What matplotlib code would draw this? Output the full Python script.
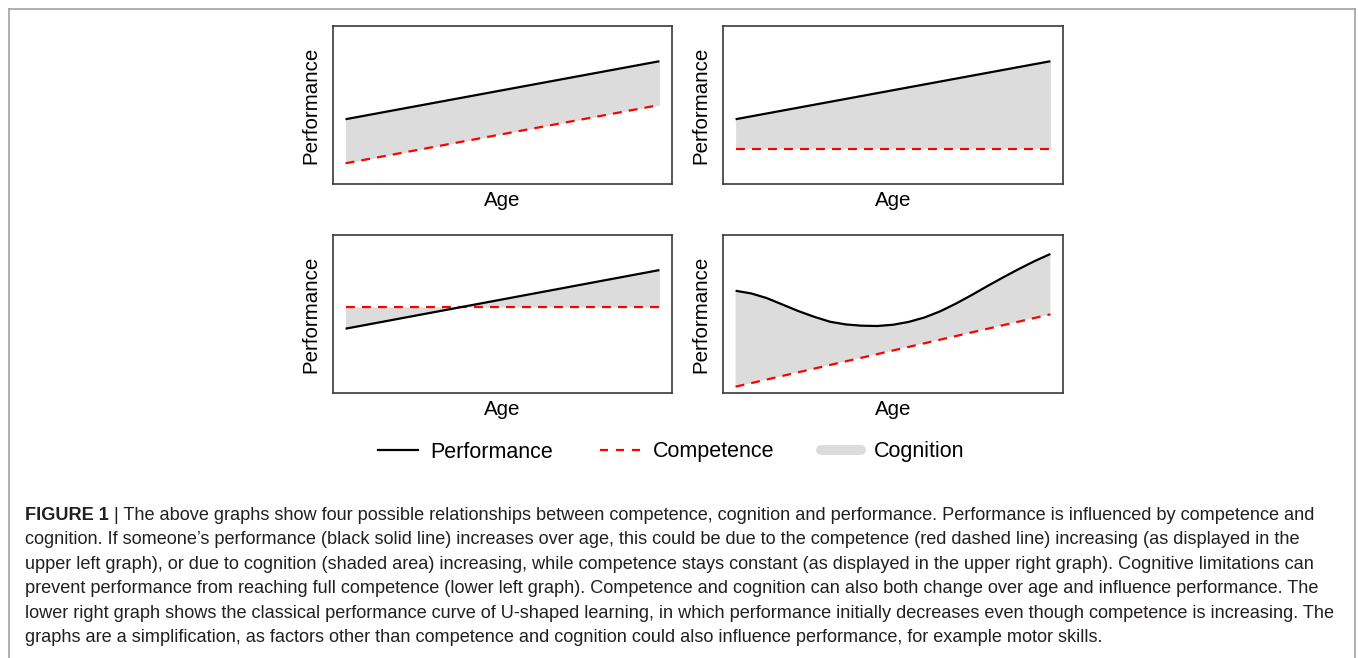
import matplotlib
matplotlib.use("Agg")
import matplotlib.pyplot as plt
from matplotlib.lines import Line2D
import numpy as np

plt.rcParams['font.family'] = ['Liberation Sans', 'DejaVu Sans']

# ---------------- data ----------------
age = [0.0, 1.0]

tl_perf = [0.410, 0.777]
tl_comp = [0.131, 0.500]

tr_perf = [0.410, 0.777]
tr_comp = [0.223, 0.223]

bl_perf = [0.407, 0.778]
bl_comp = [0.544, 0.544]

br_age = [0.00, 0.05, 0.10, 0.15, 0.20, 0.25, 0.30, 0.35, 0.40, 0.45, 0.50,
          0.55, 0.60, 0.65, 0.70, 0.75, 0.80, 0.85, 0.90, 0.95, 1.00]
br_perf = [0.647, 0.630, 0.600, 0.559, 0.518, 0.482, 0.451, 0.434, 0.426, 0.424, 0.432,
           0.450, 0.478, 0.517, 0.566, 0.620, 0.677, 0.732, 0.785, 0.835, 0.880]
br_comp = [0.040, 0.498]

legend_labels = ["Performance", "Competence", "Cognition"]
xlabel = "Age"
ylabel = "Performance"

caption_bold = "FIGURE 1"
caption_lines = [
    " | The above graphs show four possible relationships between competence, cognition and performance. Performance is influenced by competence and",
    "cognition. If someone\u2019s performance (black solid line) increases over age, this could be due to the competence (red dashed line) increasing (as displayed in the",
    "upper left graph), or due to cognition (shaded area) increasing, while competence stays constant (as displayed in the upper right graph). Cognitive limitations can",
    "prevent performance from reaching full competence (lower left graph). Competence and cognition can also both change over age and influence performance. The",
    "lower right graph shows the classical performance curve of U-shaped learning, in which performance initially decreases even though competence is increasing. The",
    "graphs are a simplification, as factors other than competence and cognition could also influence performance, for example motor skills.",
]

# ---------------- styles ----------------
W, H = 1358, 658
DPI = 100
FILL = '#dcdcdc'
PERF_KW = dict(color='black', lw=1.6, solid_capstyle='butt', solid_joinstyle='round')
COMP_KW = dict(color='#ff0000', lw=1.6, ls=(0, (4, 3.2)))
SPINE = '#3a3a3a'

fig = plt.figure(figsize=(W / DPI, H / DPI), dpi=DPI)


def px_axes(left, top, right, bottom):
    return fig.add_axes([left / W, 1 - bottom / H, (right - left) / W, (bottom - top) / H])


axes = [
    px_axes(333, 26, 672, 184),
    px_axes(723, 26, 1063, 184),
    px_axes(333, 235, 672, 393),
    px_axes(723, 235, 1063, 393),
]

for ax in axes:
    ax.set_xlim(-0.04, 1.04)
    ax.set_ylim(0, 1)
    ax.set_xticks([])
    ax.set_yticks([])
    for s in ax.spines.values():
        s.set_color(SPINE)
        s.set_linewidth(1.2)
    ax.set_xlabel(xlabel, fontsize=14.8, labelpad=5)
    ax.set_ylabel(ylabel, fontsize=14.8, labelpad=9)

# top-left
ax = axes[0]
ax.fill_between(age, tl_perf, tl_comp, color=FILL, lw=0)
ax.plot(age, tl_comp, **COMP_KW)
ax.plot(age, tl_perf, **PERF_KW)

# top-right
ax = axes[1]
ax.fill_between(age, tr_perf, tr_comp, color=FILL, lw=0)
ax.plot(age, tr_comp, **COMP_KW)
ax.plot(age, tr_perf, **PERF_KW)

# bottom-left
ax = axes[2]
ax.fill_between(age, bl_perf, bl_comp, color=FILL, lw=0)
ax.plot(age, bl_comp, **COMP_KW)
ax.plot(age, bl_perf, **PERF_KW)

# bottom-right
ax = axes[3]
ax.fill(np.r_[br_age, age[::-1]], np.r_[br_perf, br_comp[::-1]], color=FILL, lw=0)
ax.plot(age, br_comp, **COMP_KW)
ax.plot(br_age, br_perf, **PERF_KW)

# legend
handles = [
    Line2D([], [], color='black', lw=1.6),
    Line2D([], [], color='#ff0000', lw=1.6, ls=(0, (3.6, 3.6))),
    Line2D([], [], color=FILL, lw=7.2, solid_capstyle='round'),
]
fig.legend(handles, legend_labels, loc='center', bbox_to_anchor=(671 / W, 1 - 452 / H),
           ncol=3, frameon=False, fontsize=15.5, handlelength=1.86, handletextpad=0.56,
           columnspacing=2.2)

# outer border (open at bottom)
bc = '#9a9a9a'
fig.add_artist(Line2D([9 / W, 9 / W], [-0.1, 1 - 9 / H], color=bc, lw=1.1, transform=fig.transFigure))
fig.add_artist(Line2D([9 / W, 1354.5 / W], [1 - 9 / H, 1 - 9 / H], color=bc, lw=1.1, transform=fig.transFigure))
fig.add_artist(Line2D([1354.5 / W, 1354.5 / W], [-0.1, 1 - 9 / H], color=bc, lw=1.1, transform=fig.transFigure))

# caption
CAP_COLOR = '#231f20'
x0 = 25
target_right = 1322
baseline0 = 520
line_step = 24.4

fs = 12.0
renderer = fig.canvas.get_renderer()
tb = fig.text(x0 / W, 1 - baseline0 / H, caption_bold, fontsize=fs, fontweight='bold',
              color=CAP_COLOR, va='baseline', ha='left')
tr = fig.text(0, 1 - baseline0 / H, caption_lines[0], fontsize=fs, color=CAP_COLOR,
              va='baseline', ha='left')
wb = tb.get_window_extent(renderer).width
wr = tr.get_window_extent(renderer).width
fs = fs * (target_right - x0) / (wb + wr)
tb.set_fontsize(fs)
tr.set_fontsize(fs)
wb = tb.get_window_extent(renderer).width
tr.set_x((x0 + wb) / W)

for i, line in enumerate(caption_lines[1:], start=1):
    fig.text(x0 / W, 1 - (baseline0 + i * line_step) / H, line, fontsize=fs, color=CAP_COLOR,
             va='baseline', ha='left')

fig.savefig('out.png', dpi=DPI)
